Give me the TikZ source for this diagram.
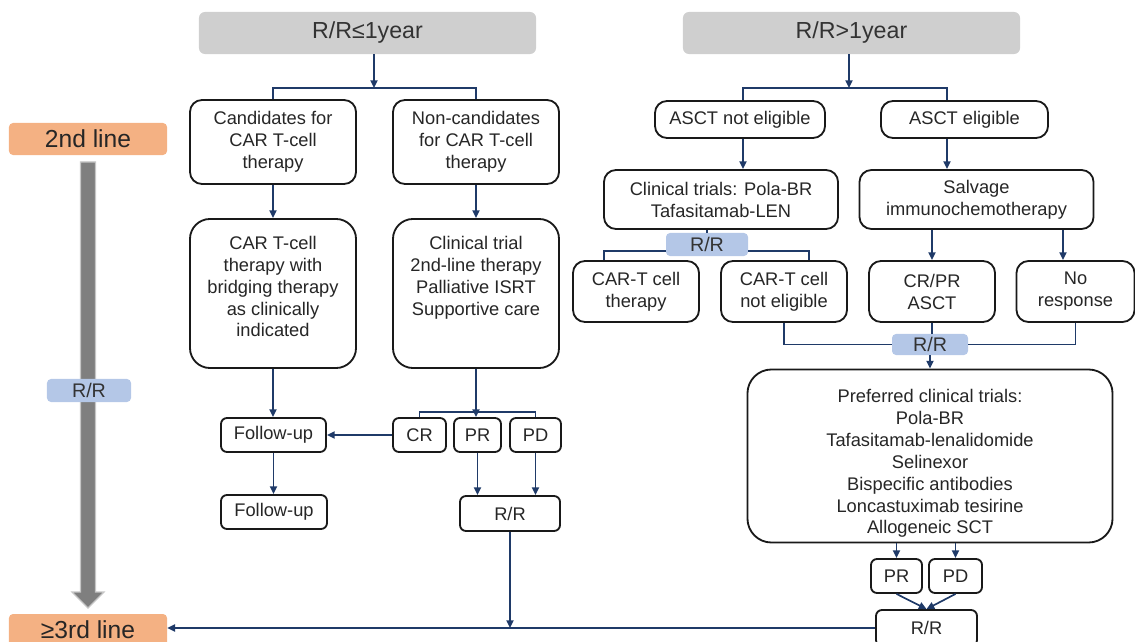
\documentclass[tikz,border=0pt]{standalone}
\usepackage{fontspec}
\setmainfont{Liberation Sans}
\usetikzlibrary{arrows.meta}
\definecolor{navy}{HTML}{1F3A68}
\definecolor{hdrgray}{HTML}{CFCFCF}
\definecolor{lineorange}{HTML}{F4B183}
\definecolor{rrblue}{HTML}{B4C7E7}
\definecolor{bargray}{HTML}{7F7F7F}
\newcommand{\bodyfont}{\fontsize{13}{15.6}\selectfont}
\tikzset{
  box/.style={draw=black!90, line width=1.3pt, fill=white, align=center, font=\bodyfont, inner sep=0pt, text=black!85},
  smallbox/.style={box, rounded corners=0.15cm, minimum height=0.85cm},
  midbox/.style={box, rounded corners=0.3cm},
  bigbox/.style={box, rounded corners=0.5cm},
  header/.style={fill=hdrgray, rounded corners=0.15cm, font=\fontsize{16.5}{20}\selectfont, text=black!80, minimum width=8.425cm, minimum height=1.05cm},
  linebox/.style={fill=lineorange, rounded corners=0.1cm, font=\fontsize{17.5}{21}\selectfont, text=black!85, minimum width=3.95cm, minimum height=0.8cm},
  rrtag/.style={fill=rrblue, rounded corners=0.1cm, font=\fontsize{14}{16}\selectfont, text=black!80, inner sep=0pt},
  conn/.style={navy, line width=1.2pt},
  arr/.style={conn, -{Triangle[length=5.5pt,width=5pt]}},
}
\begin{document}
\begin{tikzpicture}[x=0.025cm,y=-0.025cm]
    \useasboundingbox (0,0) rectangle (1135,642);
    % line of therapy
    \filldraw[fill=bargray, draw=gray!45, line width=0.8pt] (80.5,162) -- (95.5,162) -- (95.5,592) -- (104,592) -- (88,608) -- (72,592) -- (80.5,592) -- cycle;
    \node[linebox] (l2) at (88,139) {2nd line};
    \node[linebox] (l3) at (88,630) {≥3rd line};
    \node[rrtag, minimum width=2.1cm, minimum height=0.575cm] (rrL) at (89,390.5) {R/R};
    % R/R <= 1 year
    \node[header] (lt) at (367.5,33) {R/R≤1year};
    \node[midbox, minimum width=4.15cm, minimum height=2.1cm] (cand) at (273,142) {Candidates for\\CAR T-cell\\therapy};
    \node[midbox, minimum width=4.15cm, minimum height=2.1cm] (noncand) at (476,142) {Non-candidates\\for CAR T-cell\\therapy};
    \node[bigbox, minimum width=4.15cm, minimum height=3.725cm] (cart) at (273,293.5) {CAR T-cell\\therapy with\\bridging therapy\\as clinically\\indicated\\[-5.6pt]\mbox{}};
    \node[bigbox, minimum width=4.15cm, minimum height=3.725cm] (clin) at (476,293.5) {Clinical trial\\2nd-line therapy\\Palliative ISRT\\Supportive care\\[10pt]\mbox{}};
    \node[smallbox, minimum width=2.625cm] (fu1) at (273.5,435) {Follow-up};
    \node[smallbox, minimum width=1.325cm] (cr) at (419.5,435) {CR};
    \node[smallbox, minimum width=1.175cm] (pr) at (477.5,435) {PR};
    \node[smallbox, minimum width=1.275cm] (pd) at (535.5,435) {PD};
    \node[smallbox, minimum width=2.65cm] (fu2) at (274,512) {Follow-up};
    \node[smallbox, minimum width=2.5cm, minimum height=0.875cm] (rr1) at (510,513.5) {R/R};
    % R/R > 1 year
    \node[header] (rt) at (851.5,33) {R/R>1year};
    \node[midbox, minimum width=4.25cm, minimum height=0.925cm] (ascn) at (740,119.5) {ASCT not eligible};
    \node[midbox, minimum width=4.175cm, minimum height=0.925cm] (asce) at (964.5,119.5) {ASCT eligible};
    \node[midbox, minimum width=5.85cm, minimum height=1.475cm] (trials) at (721,199.5) {Clinical trials: Pola-BR\\Tafasitamab-LEN};
    \node[midbox, minimum width=5.85cm, minimum height=1.475cm] (salv) at (976.5,199.5) {Salvage\\immunochemotherapy};
    \node[midbox, minimum width=3.15cm, minimum height=1.525cm] (cartc) at (636,291.5) {CAR-T cell\\therapy};
    \node[midbox, minimum width=3.15cm, minimum height=1.525cm] (cartne) at (784,291.5) {CAR-T cell\\not eligible};
    \node[midbox, minimum width=3.15cm, minimum height=1.525cm] (crpr) at (932,291.5) {CR/PR\\ASCT};
    \node[midbox, minimum width=2.95cm, minimum height=1.525cm] (nores) at (1075.5,291.5) {No\\response};
    \node[rrtag, minimum width=2.05cm, minimum height=0.575cm] (rrA) at (707,244.5) {R/R};
    \node[rrtag, minimum width=1.9cm, minimum height=0.525cm] (rrB) at (930,344.5) {R/R};
    \node[box, rounded corners=0.6cm, minimum width=9.125cm, minimum height=4.325cm] (pref) at (930,456) {\rule{0pt}{20pt}Preferred clinical trials:\\Pola-BR\\Tafasitamab-lenalidomide\\Selinexor\\Bispecific antibodies\\Loncastuximab tesirine\\Allogeneic SCT};
    \node[smallbox, minimum width=1.275cm] (pr2) at (896.5,576) {PR};
    \node[smallbox, minimum width=1.325cm] (pd2) at (955.5,576) {PD};
    \node[smallbox, minimum width=2.525cm, minimum height=0.9cm] (rr2) at (926.5,628) {R/R};
    % joints
    \coordinate (jL) at (374,88);
    \coordinate (jR) at (849,88);
    \coordinate (aL) at (743,88);
    \coordinate (aR) at (947,88);
    \coordinate (cL) at (604,251);
    \coordinate (cR) at (809,251);
    \coordinate (sR) at (1063,0);
    \coordinate (jC) at (476,412);
    \coordinate (jB) at (510,628);
    % left branch
    \draw[arr] (lt.south -| jL) -- (jL);
    \draw[conn] (cand.north) |- (jL) -| (noncand.north);
    \draw[arr] (cand.south) -- (cart.north);
    \draw[arr] (noncand.south) -- (clin.north);
    \draw[arr] (cart.south) -- (cart.south |- fu1.north);
    \draw[arr] (clin.south) -- (clin.south |- pr.north);
    \draw[conn] (cr.north) |- (jC) -| (pd.north);
    \draw[arr] (cr.west) -- (fu1.east);
    \draw[arr] (fu1.south) -- (fu1.south |- fu2.north);
    \draw[arr] (pr.south) -- (pr.south |- rr1.north);
    \draw[arr] (pd.south) -- (pd.south |- rr1.north);
    \draw[arr] (rr1.south) -- (jB);
    \draw[arr] (rr2.west) -- (rr2.west -| l3.east);
    % right branch
    \draw[arr] (rt.south -| jR) -- (jR);
    \draw[conn] (aL |- ascn.north) -- (aL) -- (aR) -- (aR |- asce.north);
    \draw[arr] (aL |- ascn.south) -- (aL |- trials.north);
    \draw[arr] (aR |- asce.south) -- (aR |- salv.north);
    \draw[conn] (trials.south -| rrA) -- (rrA.north);
    \draw[conn] (cL |- cartc.north) -- (cL) -- (cL -| rrA.west);
    \draw[conn] (rrA.east |- cR) -- (cR) -- (cR |- cartne.north);
    \draw[arr] (salv.south -| crpr) -- (crpr.north);
    \draw[arr] (salv.south -| sR) -- (nores.north -| sR);
    \draw[conn] (crpr.south) -- (crpr.south |- rrB.north);
    \draw[conn] (cartne.south) |- (rrB.west);
    \draw[conn] (rrB.east) -| (nores.south);
    \draw[arr] (rrB.south) -- (pref.north);
    \draw[arr] (pr2.north |- pref.south) -- (pr2.north);
    \draw[arr] (pd2.north |- pref.south) -- (pd2.north);
    \draw[arr] (pr2.south) -- (rr2.north);
    \draw[arr] (pd2.south) -- (rr2.north);
\end{tikzpicture}
\end{document}
